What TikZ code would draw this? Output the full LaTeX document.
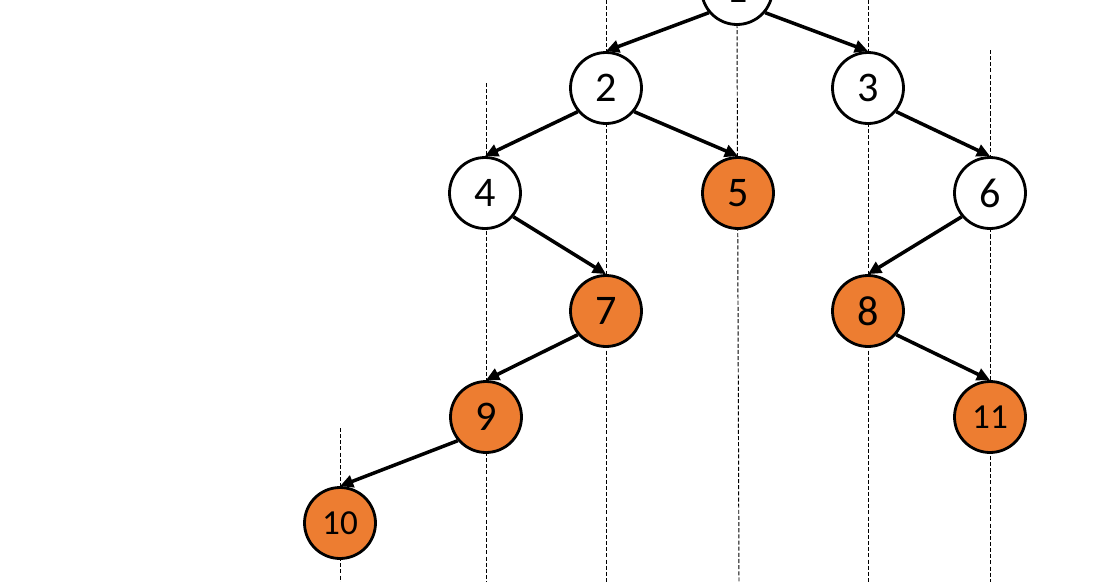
\documentclass[tikz,border=0pt]{standalone}
\usepackage{fontspec}
\setmainfont{Carlito}
\usetikzlibrary{arrows.meta}
\definecolor{orng}{HTML}{ED7D31}
\begin{document}
\begin{tikzpicture}[x=0.02cm,y=-0.02cm,
  vnode/.style={circle,draw=black,line width=1.6pt,minimum size=1.42cm,inner sep=0pt,font=\fontsize{24}{26}\selectfont},
  wnode/.style={vnode,fill=white},
  onode/.style={vnode,fill=orng},
  small/.style={font=\fontsize{20}{22}\selectfont},
  edge/.style={line width=2pt,-{Triangle[length=7.5pt,width=7pt]}},
  guide/.style={line width=0.55pt,dash pattern=on 2.3pt off 1.2pt}]
\useasboundingbox (0,0) rectangle (1110,582);
% guides
\draw[guide] (340,428) -- (340,582);
\draw[guide] (486,83) -- (486,582);
\draw[guide] (606,0) -- (606,582);
\draw[guide] (737,24) -- (739,582);
\draw[guide] (868,0) -- (868,582);
\draw[guide] (990,50) -- (990,582);
% nodes
\node[wnode] (n1) at (737,-11) {1};
\node[wnode] (n2) at (606,88) {2};
\node[wnode] (n3) at (868,88) {3};
\node[wnode] (n4) at (485,193) {4};
\node[onode] (n5) at (738,193) {5};
\node[wnode] (n6) at (990,193) {6};
\node[onode] (n7) at (606,311) {7};
\node[onode] (n8) at (868,311) {8};
\node[onode] (n9) at (486,417) {9};
\node[onode,small] (n11) at (990,417) {11};
\node[onode,small] (n10) at (340,523) {10};
% edges
\draw[edge] (n1.-140) -- (n2.north);
\draw[edge] (n1.-40) -- (n3.north);
\draw[edge] (n2.-140) -- (n4.north);
\draw[edge] (n2.-40) -- (n5.north);
\draw[edge] (n3.-40) -- (n6.north);
\draw[edge] (n4.-40) -- (n7.north);
\draw[edge] (n6.-140) -- (n8.north);
\draw[edge] (n7.-140) -- (n9.north);
\draw[edge] (n8.-40) -- (n11.north);
\draw[edge] (n9.-140) -- (n10.north);
\end{tikzpicture}
\end{document}
